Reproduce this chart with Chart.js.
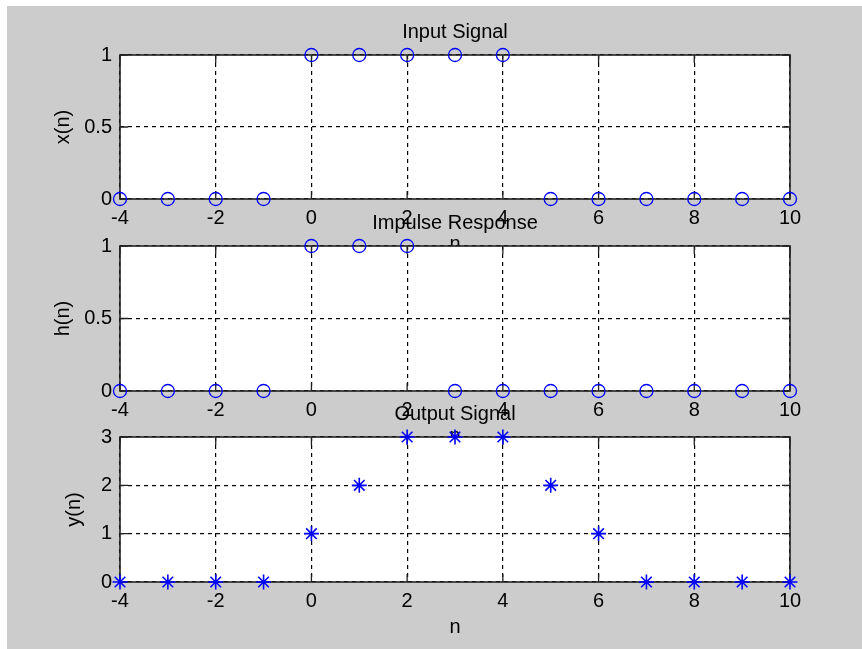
<!DOCTYPE html>
<html>
<head>
<meta charset="utf-8">
<title>Convolution</title>
<script src="https://cdn.jsdelivr.net/npm/chart.js@4.4.1/dist/chart.umd.min.js"></script>
<style>
  body { margin: 0; background: #ffffff; width: 862px; height: 649px; overflow: hidden; }
  #figure { position: absolute; left: 7px; top: 6px; width: 855px; height: 643px; background: #cccccc; }
  canvas { position: absolute; left: 0; }
</style>
</head>
<body>
<div id="figure"></div>
<canvas id="inputPlot" width="862" height="259" style="top:0px"></canvas>
<canvas id="impulsePlot" width="862" height="260" style="top:191px"></canvas>
<canvas id="outputPlot" width="862" height="260" style="top:382px"></canvas>
<script>
// sample index
const n = [-4, -3, -2, -1, 0, 1, 2, 3, 4, 5, 6, 7, 8, 9, 10];

// x(n), h(n) and y(n) = x(n) * h(n)
const xn = [0, 0, 0, 0, 1, 1, 1, 1, 1, 0, 0, 0, 0, 0, 0];
const hn = [0, 0, 0, 0, 1, 1, 1, 0, 0, 0, 0, 0, 0, 0, 0];
const yn = [0, 0, 0, 0, 1, 2, 3, 3, 3, 2, 1, 0, 0, 0, 0];

const nRange = [-4, 10];
const nStep = 2;

Chart.defaults.font.family = "'Liberation Sans', Arial, sans-serif";
Chart.defaults.font.size = 20;
Chart.defaults.color = '#000000';

const tickLen = 8;

// white axes area, solid box and inward ticks on all four sides
const axesBox = {
    id: 'axesBox',
    beforeDraw(chart) {
        const a = chart.chartArea;
        const ctx = chart.ctx;
        ctx.save();
        ctx.fillStyle = '#ffffff';
        ctx.fillRect(a.left, a.top, a.right - a.left, a.bottom - a.top);
        ctx.restore();
    },
    beforeDatasetsDraw(chart) {
        const { ctx, chartArea: a, scales } = chart;
        ctx.save();
        ctx.setLineDash([]);
        ctx.strokeStyle = '#222222';
        ctx.lineWidth = 1.6;
        ctx.strokeRect(a.left, a.top, a.right - a.left, a.bottom - a.top);

        ctx.beginPath();
        scales.x.ticks.forEach(t => {
            const px = scales.x.getPixelForValue(t.value);
            ctx.moveTo(px, a.bottom);
            ctx.lineTo(px, a.bottom - tickLen);
            ctx.moveTo(px, a.top);
            ctx.lineTo(px, a.top + tickLen);
        });
        scales.y.ticks.forEach(t => {
            const py = scales.y.getPixelForValue(t.value);
            ctx.moveTo(a.left, py);
            ctx.lineTo(a.left + tickLen, py);
            ctx.moveTo(a.right, py);
            ctx.lineTo(a.right - tickLen, py);
        });
        ctx.lineWidth = 1.3;
        ctx.stroke();
        ctx.restore();
    }
};

function makePlot(id, title, yLabel, values, yMax, yStep, marker, yTitlePad) {
    const points = n.map((v, i) => ({ x: v, y: values[i] }));
    const isStar = marker === 'star';

    new Chart(document.getElementById(id), {
        type: 'scatter',
        data: {
            datasets: [{
                data: points,
                showLine: false,
                pointStyle: marker,
                pointRadius: isStar ? 7.5 : 6.5,
                pointBorderWidth: isStar ? 1.6 : 1.3,
                pointBorderColor: '#0000ff',
                pointBackgroundColor: isStar ? '#0000ff' : 'rgba(0,0,0,0)',
                clip: false
            }]
        },
        options: {
            responsive: false,
            animation: false,
            events: [],
            layout: { padding: { top: 0, left: 0, right: 72, bottom: 0 } },
            plugins: {
                legend: { display: false },
                tooltip: { enabled: false },
                title: {
                    display: true,
                    text: title,
                    fullSize: false,
                    color: '#000000',
                    font: { size: 20, weight: 'normal' },
                    padding: { top: 20, bottom: 11 }
                }
            },
            scales: {
                x: {
                    type: 'linear',
                    min: nRange[0],
                    max: nRange[1],
                    ticks: { stepSize: nStep, padding: 7, maxRotation: 0, autoSkip: false },
                    grid: { color: '#000000', lineWidth: 1.2, drawTicks: false },
                    border: { display: false, dash: [4, 4] },
                    title: { display: true, text: 'n', padding: { top: 0, bottom: 3 } },
                    afterFit(scale) { scale.height = 60; }
                },
                y: {
                    type: 'linear',
                    min: 0,
                    max: yMax,
                    ticks: { stepSize: yStep, padding: 8, callback: v => String(v) },
                    grid: { color: '#000000', lineWidth: 1.2, drawTicks: false },
                    border: { display: false, dash: [4, 4] },
                    title: { display: true, text: yLabel, padding: { top: yTitlePad, bottom: 0 } },
                    afterFit(scale) { scale.width = 120; }
                }
            }
        },
        plugins: [axesBox]
    });
}

makePlot('inputPlot', 'Input Signal', 'x(n)', xn, 1, 0.5, 'circle', 51);
makePlot('impulsePlot', 'Impulse Response', 'h(n)', hn, 1, 0.5, 'circle', 51);
makePlot('outputPlot', 'Output Signal', 'y(n)', yn, 3, 1, 'star', 62);
</script>
</body>
</html>
